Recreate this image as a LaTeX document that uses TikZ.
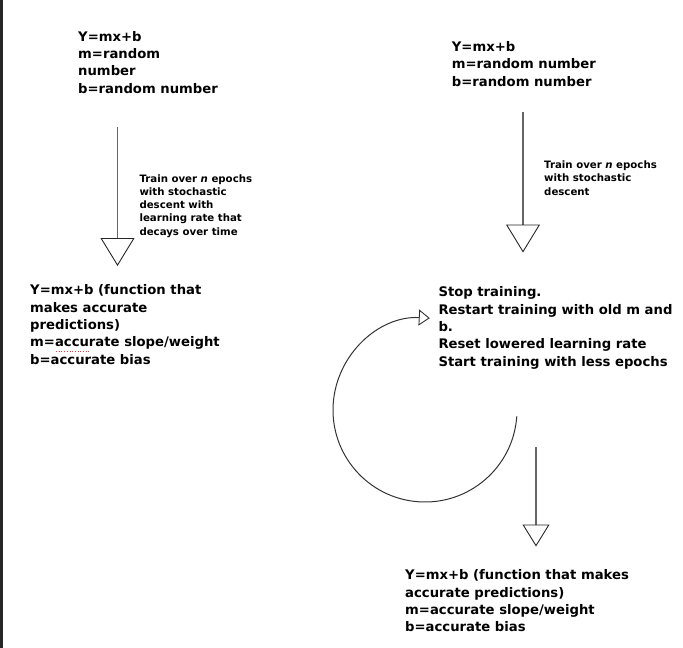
\documentclass[tikz,border=0pt]{standalone}
\usepackage{fontspec}
\setmainfont{DejaVu Sans}
\usetikzlibrary{
  arrows.meta,  % open triangle tips
  calc,         % point on the loop
  positioning   % relative placement
}

\begin{document}
\begin{tikzpicture}[x=1pt, y=-1pt, % pixel-like units, y grows downwards
  bigtext/.style={anchor=base west, inner sep=0pt, align=left, font=\fontsize{13.2}{17.3}\selectfont\bfseries},
  smalltext/.style={anchor=base west, inner sep=0pt, align=left, font=\fontsize{10.2}{13.2}\selectfont\bfseries},
  stem/.style={draw=black!60, line width=1.2pt},
  bigtip/.style={-{Triangle[open, length=28pt, width=34pt, line width=0.9pt, color=black!85]}},
  smalltip/.style={-{Triangle[open, length=22pt, width=27pt, line width=0.9pt, color=black!85]}}
  ]
  \useasboundingbox (0,0) rectangle (683,648); % page frame
  \fill[black!85] (0,0) rectangle (3,648); % dark strip on the left edge

  % left column (anchors sit on the last baseline of each text)
  \begin{scope}
    \node[bigtext] (start1) at (78,93) {Y=mx+b\\m=random\\number\\b=random number};
    \coordinate (s1) at (117.5,127); % stem top
    \coordinate (e1) at (117.5,266); % triangle apex
    \draw[stem, bigtip] (s1) -- (e1);
    \node[smalltext] (train1) at (139.3,235) {Train over \itshape n\upshape{} epochs\\with stochastic\\descent with\\learning rate that\\decays over time};
    \node[bigtext] (result1) at (30,364) {Y=mx+b (function that\\makes accurate\\predictions)\\m=accurate slope/weight\\b=accurate bias};
    \draw[red!80, dotted, line width=0.7pt] (56,351) -- (91,351); % spell-check mark
  \end{scope}

  % right column
  \begin{scope}
    \node[bigtext] (start2) at (451.7,86) {Y=mx+b\\m=random number\\b=random number};
    \coordinate (s2) at (523,112.3);
    \coordinate (e2) at (523,252.5);
    \draw[stem, bigtip] (s2) -- (e2);
    \node[smalltext] (train2) at (544,195) {Train over \itshape n\upshape{} epochs\\with stochastic\\descent};
    \node[bigtext] (restart) at (438.3,366) {Stop training.\\Restart training with old m and\\b.\\Reset lowered learning rate\\Start training with less epochs};

    % loop back to the restart step
    \coordinate (c) at (425,410); % centre of the loop
    \coordinate (l0) at ($(c)+(4:92)$);
    \draw[line width=1pt, black!80, -{Triangle[open, length=11pt, width=16pt, line width=0.9pt]}]
      (l0) arc[start angle=4, end angle=273, radius=92];

    \coordinate (s3) at (536,447.3);
    \coordinate (e3) at (536,546.5);
    \draw[stem, smalltip] (s3) -- (e3);
    \node[bigtext] (result2) at (405,631.7) {Y=mx+b (function that makes\\accurate predictions)\\m=accurate slope/weight\\b=accurate bias};
  \end{scope}
\end{tikzpicture}
\end{document}
